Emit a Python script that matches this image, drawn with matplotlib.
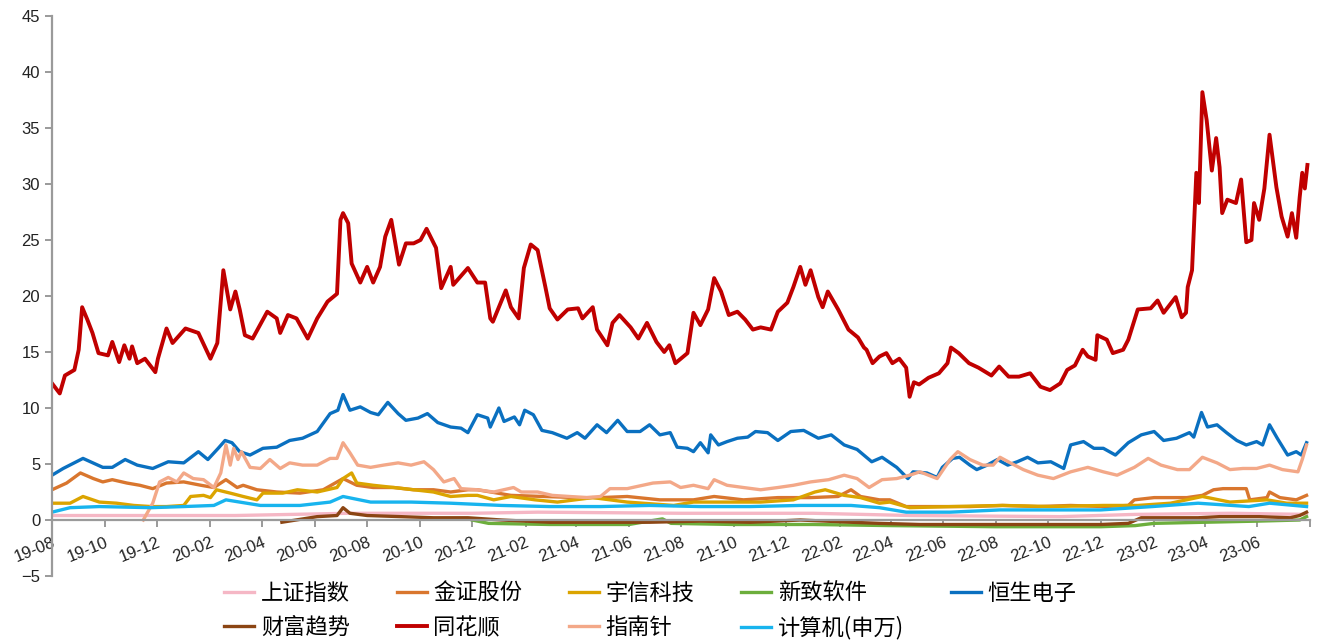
import matplotlib
matplotlib.use("Agg")
import matplotlib.pyplot as plt
import pandas as pd

plt.rcParams['font.family'] = ['Liberation Sans', 'Noto Sans CJK SC', 'DejaVu Sans']

# ---- data ----
ths_dates = ['2019-08-01', '2019-08-10', '2019-08-16', '2019-08-27', '2019-09-01', '2019-09-05', '2019-09-11',
             '2019-09-17', '2019-09-24', '2019-10-05', '2019-10-10', '2019-10-18', '2019-10-24', '2019-10-30',
             '2019-11-02', '2019-11-08', '2019-11-17', '2019-11-29', '2019-12-02', '2019-12-12', '2019-12-19',
             '2020-01-03', '2020-01-18', '2020-02-01', '2020-02-09', '2020-02-16', '2020-02-24', '2020-03-01',
             '2020-03-06', '2020-03-12', '2020-03-21', '2020-04-07', '2020-04-18', '2020-04-22', '2020-05-01',
             '2020-05-11', '2020-05-24', '2020-06-04', '2020-06-16', '2020-06-27', '2020-07-01', '2020-07-04',
             '2020-07-10', '2020-07-14', '2020-07-24', '2020-08-01', '2020-08-08', '2020-08-16', '2020-08-22',
             '2020-08-29', '2020-09-07', '2020-09-15', '2020-09-24', '2020-10-02', '2020-10-09', '2020-10-20',
             '2020-10-26', '2020-11-06', '2020-11-09', '2020-11-17', '2020-11-26', '2020-12-07', '2020-12-16',
             '2020-12-22', '2020-12-25', '2021-01-01', '2021-01-09', '2021-01-15', '2021-01-24', '2021-01-30',
             '2021-02-07', '2021-02-15', '2021-02-24', '2021-03-01', '2021-03-10', '2021-03-22', '2021-04-03',
             '2021-04-08', '2021-04-20', '2021-04-25', '2021-05-07', '2021-05-13', '2021-05-21', '2021-06-03',
             '2021-06-12', '2021-06-22', '2021-07-03', '2021-07-12', '2021-07-18', '2021-07-25', '2021-08-08',
             '2021-08-15', '2021-08-23', '2021-09-01', '2021-09-08', '2021-09-16', '2021-09-25', '2021-10-05',
             '2021-10-14', '2021-10-23', '2021-11-01', '2021-11-13', '2021-11-21', '2021-12-02', '2021-12-09',
             '2021-12-17', '2021-12-23', '2021-12-29', '2022-01-07', '2022-01-12', '2022-01-18', '2022-01-30',
             '2022-02-11', '2022-02-22', '2022-03-01', '2022-03-04', '2022-03-11', '2022-03-19', '2022-03-27',
             '2022-04-03', '2022-04-11', '2022-04-19', '2022-04-23', '2022-04-28', '2022-05-04', '2022-05-15',
             '2022-05-27', '2022-06-06', '2022-06-10', '2022-06-19', '2022-07-01', '2022-07-12', '2022-07-27',
             '2022-08-05', '2022-08-16', '2022-08-28', '2022-09-10', '2022-09-22', '2022-10-03', '2022-10-15',
             '2022-10-23', '2022-11-01', '2022-11-10', '2022-11-16', '2022-11-25', '2022-11-27', '2022-12-08',
             '2022-12-15', '2022-12-27', '2023-01-02', '2023-01-13', '2023-01-28', '2023-02-05', '2023-02-12',
             '2023-02-26', '2023-03-05', '2023-03-10', '2023-03-12', '2023-03-17', '2023-03-22', '2023-03-25',
             '2023-03-29', '2023-04-03', '2023-04-09', '2023-04-14', '2023-04-18', '2023-04-21', '2023-04-27',
             '2023-05-07', '2023-05-13', '2023-05-19', '2023-05-25', '2023-05-28', '2023-06-03', '2023-06-09',
             '2023-06-15', '2023-06-23', '2023-06-29', '2023-07-06', '2023-07-11', '2023-07-16', '2023-07-20',
             '2023-07-23', '2023-07-26', '2023-07-29']
ths_vals = [12.2, 11.3, 12.9, 13.4, 15.2, 19.0, 17.9,
            16.7, 14.9, 14.7, 15.9, 14.1, 15.6, 14.4,
            15.5, 14.0, 14.4, 13.2, 14.4, 17.1, 15.8,
            17.1, 16.7, 14.4, 15.8, 22.3, 18.8, 20.4,
            18.8, 16.5, 16.2, 18.6, 18.0, 16.7, 18.3,
            18.0, 16.2, 18.0, 19.5, 20.2, 26.8, 27.4,
            26.5, 22.9, 21.2, 22.6, 21.2, 22.6, 25.3,
            26.8, 22.8, 24.7, 24.7, 25.0, 26.0, 24.3,
            20.7, 22.6, 21.0, 21.7, 22.5, 21.2, 21.2,
            18.0, 17.7, 19.0, 20.5, 19.0, 18.0, 22.5,
            24.6, 24.1, 20.8, 18.9, 17.9, 18.8, 18.9,
            18.0, 19.0, 17.0, 15.6, 17.6, 18.3, 17.2,
            16.2, 17.6, 15.9, 15.0, 15.6, 14.0, 14.9,
            18.5, 17.4, 18.8, 21.6, 20.4, 18.3, 18.6,
            17.9, 17.0, 17.2, 17.0, 18.6, 19.4, 20.8,
            22.6, 21.0, 22.3, 19.9, 19.0, 20.4, 18.8,
            17.0, 16.3, 15.4, 15.2, 14.0, 14.6, 14.9,
            14.0, 14.4, 13.6, 11.0, 12.3, 12.1, 12.7,
            13.1, 14.0, 15.4, 14.9, 14.0, 13.6, 12.9,
            13.7, 12.8, 12.8, 13.1, 11.9, 11.6, 12.2,
            13.4, 13.8, 15.2, 14.6, 14.3, 16.5, 16.1,
            14.9, 15.2, 16.1, 18.8, 18.9, 19.6, 18.5,
            19.9, 18.1, 18.5, 20.8, 22.3, 31.0, 28.3,
            38.2, 35.7, 31.2, 34.1, 31.5, 27.4, 28.6,
            28.3, 30.4, 24.8, 25.0, 28.3, 26.8, 29.6,
            34.4, 29.7, 27.1, 25.3, 27.4, 25.2, 28.8,
            31.0, 29.6, 31.7]

hs_dates = ['2019-08-01', '2019-08-14', '2019-09-06', '2019-09-29', '2019-10-10', '2019-10-25', '2019-11-08',
            '2019-11-26', '2019-12-14', '2020-01-01', '2020-01-18', '2020-01-29', '2020-02-10', '2020-02-18',
            '2020-02-26', '2020-03-06', '2020-03-18', '2020-04-02', '2020-04-18', '2020-05-03', '2020-05-18',
            '2020-06-04', '2020-06-19', '2020-06-28', '2020-07-04', '2020-07-12', '2020-07-24', '2020-08-05',
            '2020-08-14', '2020-08-25', '2020-09-06', '2020-09-15', '2020-09-29', '2020-10-10', '2020-10-22',
            '2020-11-06', '2020-11-18', '2020-11-26', '2020-12-07', '2020-12-19', '2020-12-22', '2021-01-01',
            '2021-01-07', '2021-01-19', '2021-01-25', '2021-01-31', '2021-02-10', '2021-02-20', '2021-03-04',
            '2021-03-21', '2021-04-02', '2021-04-11', '2021-04-25', '2021-05-06', '2021-05-19', '2021-05-30',
            '2021-06-14', '2021-06-25', '2021-07-07', '2021-07-19', '2021-07-27', '2021-08-08', '2021-08-15',
            '2021-08-23', '2021-09-01', '2021-09-04', '2021-09-13', '2021-09-23', '2021-10-05', '2021-10-17',
            '2021-10-26', '2021-11-09', '2021-11-21', '2021-12-06', '2021-12-21', '2022-01-07', '2022-01-22',
            '2022-02-06', '2022-02-21', '2022-03-10', '2022-03-22', '2022-04-08', '2022-04-21', '2022-04-27',
            '2022-05-13', '2022-05-25', '2022-05-31', '2022-06-12', '2022-06-20', '2022-07-02', '2022-07-10',
            '2022-07-22', '2022-08-03', '2022-08-15', '2022-08-26', '2022-09-07', '2022-09-19', '2022-10-04',
            '2022-10-19', '2022-10-27', '2022-11-11', '2022-11-23', '2022-12-04', '2022-12-18', '2023-01-02',
            '2023-01-17', '2023-02-01', '2023-02-12', '2023-02-27', '2023-03-14', '2023-03-19', '2023-03-28',
            '2023-04-04', '2023-04-15', '2023-04-26', '2023-05-08', '2023-05-19', '2023-05-31', '2023-06-07',
            '2023-06-15', '2023-06-24', '2023-07-06', '2023-07-16', '2023-07-22', '2023-07-28']
hs_vals = [4.0, 4.6, 5.5, 4.7, 4.7, 5.4, 4.9,
           4.6, 5.2, 5.1, 6.1, 5.4, 6.4, 7.1,
           6.9, 6.1, 5.8, 6.4, 6.5, 7.1, 7.3,
           7.9, 9.5, 9.8, 11.2, 9.8, 10.1, 9.6,
           9.4, 10.5, 9.5, 8.9, 9.1, 9.5, 8.7,
           8.3, 8.2, 7.8, 9.4, 9.1, 8.3, 10.0,
           8.8, 9.2, 8.5, 9.8, 9.4, 8.0, 7.8,
           7.3, 7.8, 7.3, 8.5, 7.8, 8.9, 7.9,
           7.9, 8.5, 7.6, 7.8, 6.5, 6.4, 6.1,
           6.9, 6.0, 7.6, 6.7, 7.0, 7.3, 7.4,
           7.9, 7.8, 7.1, 7.9, 8.0, 7.3, 7.6,
           6.7, 6.3, 5.2, 5.6, 4.7, 3.7, 4.3,
           4.2, 3.8, 4.7, 5.5, 5.6, 4.9, 4.5,
           4.9, 5.4, 4.9, 5.2, 5.6, 5.1, 5.2,
           4.6, 6.7, 7.0, 6.4, 6.4, 5.8, 6.9,
           7.6, 7.9, 7.1, 7.3, 7.8, 7.4, 9.6,
           8.3, 8.5, 7.8, 7.1, 6.7, 7.0, 6.7,
           8.5, 7.3, 5.8, 6.1, 5.8, 6.9]

znz_dates = ['2019-11-15', '2019-11-26', '2019-12-04', '2019-12-14', '2019-12-24', '2020-01-01', '2020-01-12',
             '2020-01-24', '2020-02-05', '2020-02-13', '2020-02-19', '2020-02-24', '2020-02-28', '2020-03-04',
             '2020-03-08', '2020-03-18', '2020-03-30', '2020-04-10', '2020-04-22', '2020-05-03', '2020-05-18',
             '2020-06-04', '2020-06-19', '2020-06-27', '2020-07-04', '2020-07-12', '2020-07-21', '2020-08-05',
             '2020-08-20', '2020-09-06', '2020-09-21', '2020-10-06', '2020-10-17', '2020-10-29', '2020-11-10',
             '2020-11-18', '2020-12-07', '2020-12-26', '2021-01-18', '2021-01-27', '2021-02-15', '2021-03-04',
             '2021-03-24', '2021-04-13', '2021-04-29', '2021-05-10', '2021-05-30', '2021-06-17', '2021-06-29',
             '2021-07-19', '2021-07-31', '2021-08-15', '2021-09-01', '2021-09-08', '2021-09-23', '2021-10-12',
             '2021-11-01', '2021-11-21', '2021-12-09', '2021-12-29', '2022-01-19', '2022-02-06', '2022-02-21',
             '2022-03-07', '2022-03-22', '2022-04-08', '2022-04-23', '2022-05-05', '2022-05-25', '2022-06-09',
             '2022-06-18', '2022-07-02', '2022-07-17', '2022-07-29', '2022-08-06', '2022-08-18', '2022-09-02',
             '2022-09-19', '2022-10-07', '2022-10-27', '2022-11-16', '2022-12-04', '2022-12-20', '2023-01-09',
             '2023-01-25', '2023-02-09', '2023-02-28', '2023-03-14', '2023-03-29', '2023-04-15', '2023-04-30',
             '2023-05-15', '2023-05-31', '2023-06-15', '2023-06-30', '2023-07-18', '2023-07-23', '2023-07-28']
znz_vals = [0.0, 1.5, 3.4, 3.8, 3.4, 4.2, 3.7,
            3.6, 2.9, 4.2, 6.7, 4.9, 6.4, 5.4,
            6.1, 4.7, 4.6, 5.4, 4.6, 5.1, 4.9,
            4.9, 5.5, 5.5, 6.9, 6.0, 4.9, 4.7,
            4.9, 5.1, 4.9, 5.2, 4.5, 3.4, 3.7,
            2.8, 2.7, 2.5, 2.9, 2.5, 2.5, 2.2,
            2.1, 2.0, 2.1, 2.8, 2.8, 3.1, 3.3,
            3.4, 2.9, 3.1, 2.8, 3.6, 3.1, 2.9,
            2.7, 2.9, 3.1, 3.4, 3.6, 4.0, 3.7,
            2.9, 3.6, 3.7, 4.0, 4.3, 3.7, 5.4,
            6.1, 5.4, 4.9, 4.9, 5.6, 5.1, 4.5,
            4.0, 3.7, 4.3, 4.7, 4.3, 4.0, 4.7,
            5.5, 4.9, 4.5, 4.5, 5.6, 5.1, 4.5,
            4.6, 4.6, 4.9, 4.5, 4.3, 5.4, 6.7]

jz_dates = ['2019-08-01', '2019-08-18', '2019-09-03', '2019-09-18', '2019-09-29', '2019-10-10', '2019-10-27',
            '2019-11-11', '2019-11-26', '2019-12-12', '2020-01-01', '2020-01-21', '2020-02-05', '2020-02-19',
            '2020-03-03', '2020-03-10', '2020-03-26', '2020-04-18', '2020-05-15', '2020-06-11', '2020-07-04',
            '2020-07-20', '2020-08-08', '2020-09-01', '2020-09-24', '2020-10-17', '2020-11-06', '2020-11-26',
            '2020-12-07', '2021-01-15', '2021-02-22', '2021-04-02', '2021-04-29', '2021-05-30', '2021-07-07',
            '2021-08-15', '2021-09-08', '2021-10-12', '2021-11-21', '2021-12-29', '2022-01-30', '2022-02-14',
            '2022-02-25', '2022-03-19', '2022-03-31', '2022-04-19', '2022-05-25', '2022-07-02', '2022-08-09',
            '2022-09-19', '2022-10-27', '2022-12-04', '2023-01-02', '2023-01-09', '2023-02-01', '2023-03-11',
            '2023-03-29', '2023-04-11', '2023-04-22', '2023-05-19', '2023-05-23', '2023-06-12', '2023-06-15',
            '2023-06-27', '2023-07-16', '2023-07-28']
jz_vals = [2.7, 3.3, 4.2, 3.7, 3.4, 3.6, 3.3,
           3.1, 2.8, 3.3, 3.4, 3.1, 2.9, 3.6,
           2.9, 3.1, 2.7, 2.5, 2.4, 2.7, 3.7,
           3.1, 2.9, 2.9, 2.7, 2.7, 2.5, 2.7,
           2.7, 2.2, 2.1, 2.0, 2.0, 2.1, 1.8,
           1.8, 2.1, 1.8, 2.0, 2.0, 2.1, 2.7,
           2.1, 1.8, 1.8, 1.2, 1.2, 1.2, 1.3,
           1.2, 1.3, 1.2, 1.3, 1.8, 2.0, 2.0,
           2.2, 2.7, 2.8, 2.8, 1.8, 2.0, 2.5,
           2.0, 1.8, 2.2]

yx_dates = ['2019-08-01', '2019-08-22', '2019-09-06', '2019-09-25', '2019-10-15', '2019-11-04', '2019-11-24',
            '2019-12-12', '2020-01-01', '2020-01-09', '2020-01-24', '2020-02-01', '2020-02-08', '2020-02-24',
            '2020-03-10', '2020-03-26', '2020-04-02', '2020-04-25', '2020-05-12', '2020-06-04', '2020-06-27',
            '2020-07-04', '2020-07-14', '2020-07-20', '2020-08-08', '2020-09-01', '2020-09-24', '2020-10-17',
            '2020-11-06', '2020-11-26', '2020-12-07', '2020-12-26', '2021-01-15', '2021-02-12', '2021-03-10',
            '2021-04-20', '2021-05-30', '2021-07-23', '2021-08-15', '2021-09-23', '2021-11-01', '2021-12-09',
            '2022-01-03', '2022-01-15', '2022-02-06', '2022-02-25', '2022-03-19', '2022-03-31', '2022-04-23',
            '2022-06-12', '2022-08-09', '2022-10-03', '2022-12-04', '2023-01-13', '2023-02-20', '2023-03-29',
            '2023-04-30', '2023-06-12', '2023-07-05', '2023-07-28']
yx_vals = [1.5, 1.5, 2.1, 1.6, 1.5, 1.3, 1.2,
           1.2, 1.3, 2.1, 2.2, 2.0, 2.7, 2.4,
           2.1, 1.8, 2.4, 2.4, 2.7, 2.5, 2.9,
           3.7, 4.2, 3.3, 3.1, 2.9, 2.7, 2.5,
           2.1, 2.2, 2.2, 1.8, 2.1, 1.8, 1.6,
           2.0, 1.6, 1.3, 1.6, 1.6, 1.6, 1.8,
           2.5, 2.7, 2.2, 2.0, 1.5, 1.6, 1.1,
           1.2, 1.3, 1.2, 1.3, 1.3, 1.5, 2.1,
           1.6, 1.8, 1.5, 1.5]

jsj_dates = ['2019-08-01', '2019-08-22', '2019-09-25', '2019-11-24', '2020-01-01', '2020-02-05', '2020-02-19',
             '2020-03-30', '2020-05-15', '2020-06-19', '2020-07-04', '2020-08-05', '2020-09-21', '2020-11-06',
             '2021-01-04', '2021-03-01', '2021-04-29', '2021-06-25', '2021-08-23', '2021-10-20', '2021-12-17',
             '2022-02-14', '2022-03-19', '2022-04-19', '2022-06-09', '2022-08-06', '2022-10-03', '2022-12-01',
             '2023-01-30', '2023-03-24', '2023-05-22', '2023-06-15', '2023-07-28']
jsj_vals = [0.7, 1.1, 1.2, 1.1, 1.2, 1.3, 1.8,
            1.3, 1.3, 1.6, 2.1, 1.6, 1.6, 1.5,
            1.3, 1.2, 1.2, 1.3, 1.2, 1.2, 1.3,
            1.3, 1.1, 0.7, 0.7, 0.9, 0.9, 0.9,
            1.2, 1.5, 1.2, 1.5, 1.2]

sz_dates = ['2019-08-01', '2019-12-01', '2020-03-01', '2020-07-10', '2020-12-01', '2021-02-15', '2021-08-01',
            '2022-01-01', '2022-04-25', '2022-10-15', '2023-01-10', '2023-05-01', '2023-07-28']
sz_vals = [0.4, 0.4, 0.4, 0.6, 0.6, 0.7, 0.6,
           0.6, 0.4, 0.3, 0.5, 0.6, 0.5]

cf_dates = ['2020-04-24', '2020-06-04', '2020-06-27', '2020-07-04', '2020-07-12', '2020-08-01', '2020-09-09',
            '2020-10-17', '2020-11-26', '2021-01-04', '2021-03-01', '2021-04-29', '2021-06-25', '2021-08-23',
            '2021-10-20', '2021-12-17', '2022-02-14', '2022-03-19', '2022-05-05', '2022-07-02', '2022-10-03',
            '2022-12-01', '2023-01-02', '2023-01-17', '2023-03-24', '2023-04-18', '2023-06-03', '2023-07-09',
            '2023-07-20', '2023-07-28']
cf_vals = [-0.2, 0.3, 0.4, 1.1, 0.6, 0.4, 0.3,
           0.2, 0.2, 0.0, -0.2, -0.2, -0.2, -0.1,
           -0.2, 0.0, -0.2, -0.3, -0.4, -0.4, -0.4,
           -0.4, -0.3, 0.2, 0.2, 0.3, 0.3, 0.2,
           0.4, 0.7]

xz_dates = ['2020-12-01', '2020-12-20', '2021-03-01', '2021-06-01', '2021-07-10', '2021-07-20', '2021-10-01',
            '2022-01-01', '2022-04-01', '2022-08-01', '2022-12-01', '2023-01-10', '2023-02-01', '2023-04-01',
            '2023-06-01', '2023-07-20', '2023-07-28']
xz_vals = [0.0, -0.3, -0.4, -0.4, 0.1, -0.3, -0.4,
           -0.4, -0.5, -0.6, -0.6, -0.5, -0.3, -0.2,
           -0.1, 0.0, 0.3]

names = ['上证指数', '金证股份', '宇信科技', '新致软件', '恒生电子',
         '财富趋势', '同花顺', '指南针', '计算机(申万)']
series = [(sz_dates, sz_vals), (jz_dates, jz_vals), (yx_dates, yx_vals), (xz_dates, xz_vals),
          (hs_dates, hs_vals), (cf_dates, cf_vals), (ths_dates, ths_vals), (znz_dates, znz_vals),
          (jsj_dates, jsj_vals)]
colors = ['#F5B7C5', '#D9762E', '#DBA400', '#6CAE3C', '#0A70C0',
          '#8B4513', '#C00000', '#F3A888', '#18B4EE']

fig = plt.figure(figsize=(13.22, 6.41), dpi=100)
ax = fig.add_axes([52 / 1322, 1 - 576 / 641, 1258 / 1322, 560 / 641])

# spine moved before ticks are styled (set_position resets tick text)
for s in ['top', 'right']:
    ax.spines[s].set_visible(False)
ax.spines['bottom'].set_position(('data', 0))

lines = []
for (d, v), name, c in zip(series, names, colors):
    lw = 2.8 if name == '同花顺' else 2.4
    ln, = ax.plot(pd.to_datetime(d), v, color=c, lw=lw, label=name, solid_joinstyle='round')
    lines.append(ln)

ax.set_ylim(-5, 45)
ax.set_yticks(range(-5, 50, 5))
ax.set_xlim(pd.Timestamp('2019-08-01'), pd.Timestamp('2023-08-01'))
xt = pd.date_range('2019-08-01', '2023-08-01', freq='2MS')
ax.set_xticks(xt)
xl = [t.strftime('%y-%m') for t in xt]
xl[-1] = ''
ax.set_xticklabels(xl)

ax.spines['left'].set_color('#9A9A9A')
ax.spines['bottom'].set_color('#9A9A9A')
ax.spines['left'].set_linewidth(1.6)
ax.spines['bottom'].set_linewidth(1.6)
ax.tick_params(axis='y', colors='#9A9A9A', labelcolor='#222222', labelsize=12, length=5, width=1.4)
ax.tick_params(axis='x', colors='#9A9A9A', labelcolor='#222222', labelsize=12, length=5, width=1.4,
               direction='out', pad=6)
plt.setp(ax.get_xticklabels(), rotation=22, ha='right', rotation_mode='anchor')

# legend filled row by row
order = [0, 5, 1, 6, 2, 7, 3, 8, 4]
fig.legend([lines[i] for i in order], [names[i] for i in order], ncol=5, loc='center',
           bbox_to_anchor=(0.492, 0.047), frameon=False, handlelength=1.35, handletextpad=0.3,
           columnspacing=2.1, labelspacing=0.5,
           prop={'family': ['Noto Sans CJK SC', 'DejaVu Sans'], 'size': 16})

fig.savefig('out.png', dpi=100)
